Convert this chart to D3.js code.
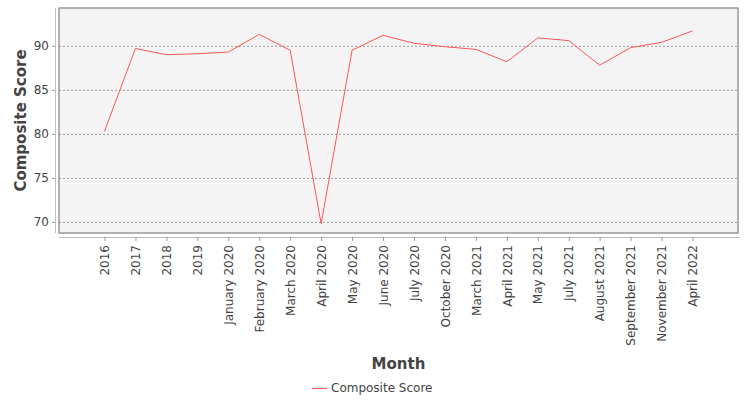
<!DOCTYPE html>
<html>
<head>
<meta charset="utf-8">
<script src="https://cdn.jsdelivr.net/npm/d3@7"></script>
<style>
  body { margin: 0; background: #fff; }
  text { font-family: "DejaVu Sans", sans-serif; }
</style>
</head>
<body>
<div id="chart"></div>
<script>
// category labels along the x axis
var months = ["2016", "2017", "2018", "2019", "January 2020", "February 2020", "March 2020",
  "April 2020", "May 2020", "June 2020", "July 2020", "October 2020", "March 2021",
  "April 2021", "May 2021", "July 2021", "August 2021", "September 2021",
  "November 2021", "April 2022"];

// composite score per month
var scores = [80.3, 89.7, 89.0, 89.1, 89.3, 91.3, 89.5, 69.8, 89.5, 91.2, 90.3, 89.9, 89.6,
  88.2, 90.9, 90.6, 87.8, 89.8, 90.4, 91.7];

var yTicks = [70, 75, 80, 85, 90];
var seriesName = "Composite Score";

function drawChart(tag) {
  var W = 750, H = 400;
  var margin = {top: 8, right: 12, bottom: 167, left: 59},
      width = W - margin.left - margin.right,
      height = H - margin.top - margin.bottom;

  var data = months.map(function(m, i) { return {Month: m, Value: scores[i]}; });

  var svg = d3.select('#' + tag)
    .append("svg")
      .attr("width", W)
      .attr("height", H);

  var g = svg.append("g")
      .attr("transform", "translate(" + margin.left + "," + margin.top + ")");

  var xscale = d3.scalePoint()
    .domain(months)
    .range([0, width])
    .padding(1.47);

  var yscale = d3.scaleLinear()
    .domain([68.75, 94.3])
    .range([height, 0]);

  // plot background
  g.append("rect")
    .attr("width", width)
    .attr("height", height)
    .attr("fill", "#f4f4f4");

  // dashed grid lines
  g.selectAll(".grid")
    .data(yTicks)
    .join("line")
      .attr("x1", 0)
      .attr("x2", width)
      .attr("y1", function(d) { return yscale(d) + 0.5; })
      .attr("y2", function(d) { return yscale(d) + 0.5; })
      .attr("stroke", "#888")
      .attr("stroke-width", 0.8)
      .attr("stroke-dasharray", "2,2");

  // Y axis (sits a little left of the plot)
  var yAxis = g.append("g")
    .attr("transform", "translate(-4,0)")
    .call(d3.axisLeft(yscale).tickValues(yTicks).tickSize(3).tickPadding(3));
  yAxis.select(".domain").attr("stroke", "#c0c0c0").attr("d", "M0.5,0V" + height);
  yAxis.selectAll(".tick line").attr("stroke", "#999");
  yAxis.selectAll("text")
    .attr("font-size", 12)
    .attr("font-family", "DejaVu Sans")
    .attr("fill", "#444");

  // X axis (sits a little below the plot)
  var xAxis = g.append("g")
    .attr("transform", "translate(0," + (height + 4) + ")")
    .call(d3.axisBottom(xscale).tickSize(4).tickPadding(4));
  xAxis.select(".domain").attr("stroke", "#c0c0c0").attr("d", "M0,0.5H" + (width + 2));
  xAxis.selectAll(".tick line").attr("stroke", "#999");
  xAxis.selectAll("text")
    .attr("font-size", 12)
    .attr("font-family", "DejaVu Sans")
    .attr("fill", "#444")
    .attr("text-anchor", "end")
    .attr("dy", "0.35em")
    .attr("transform", "translate(0,0) rotate(-90)")
    .attr("x", -8)
    .attr("y", 0);

  // plot frame
  g.append("rect")
    .attr("width", width)
    .attr("height", height)
    .attr("fill", "none")
    .attr("stroke", "#808080")
    .attr("stroke-width", 1.2);

  // Add the line
  g.append("path")
    .datum(data)
    .attr("fill", "none")
    .attr("stroke", "#ff5555")
    .attr("stroke-width", 1)
    .attr("d", d3.line()
      .x(function(d) { return xscale(d.Month); })
      .y(function(d) { return yscale(d.Value); }));

  // axis titles
  svg.append("text")
    .attr("transform", "translate(26," + (margin.top + height / 2) + ") rotate(-90)")
    .attr("text-anchor", "middle")
    .attr("font-size", 15)
    .attr("font-weight", "bold")
    .attr("fill", "#444")
    .text("Composite Score");

  svg.append("text")
    .attr("x", margin.left + width / 2)
    .attr("y", 369)
    .attr("text-anchor", "middle")
    .attr("font-size", 15)
    .attr("font-weight", "bold")
    .attr("fill", "#444")
    .text("Month");

  // legend
  var legend = svg.append("g").attr("transform", "translate(312,388)");
  legend.append("line")
    .attr("x1", 0).attr("x2", 15)
    .attr("y1", 0.5).attr("y2", 0.5)
    .attr("stroke", "#ff5555");
  legend.append("text")
    .attr("x", 19)
    .attr("y", 4)
    .attr("font-size", 12)
    .attr("fill", "#444")
    .text(seriesName);
}

drawChart("chart");
</script>
</body>
</html>
